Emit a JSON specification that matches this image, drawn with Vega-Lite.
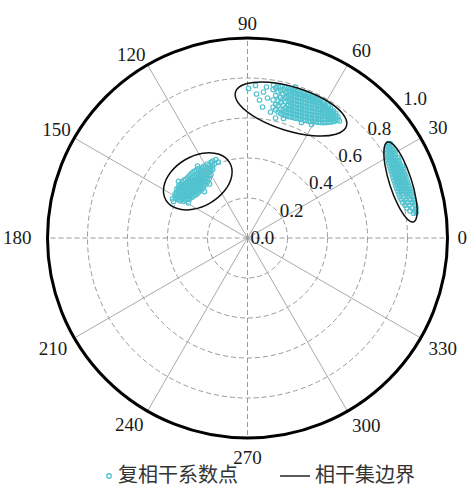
{
  "$schema": "https://vega.github.io/schema/vega-lite/v6.json",
  "width": 400,
  "height": 400,
  "autosize": {"type": "none"},
  "padding": {"left": 47.5, "top": 38, "right": 22.5, "bottom": 49},
  "background": "white",
  "config": {"view": {"stroke": null}},
  "datasets": {
    "rings": [{"o": 0, "r": 0.2}, {"o": 0, "r": 0.4}, {"o": 0, "r": 0.6}, {"o": 0, "r": 0.8}],
    "outer": [{"o": 0, "r": 1.0}],
    "rlabels": [{"r": 0}, {"r": 0.2}, {"r": 0.4}, {"r": 0.6}, {"r": 0.8}, {"r": 1.0}],
    "spokes": [
      {"angle": 0, "o": 0, "c": 1, "s": 0}, {"angle": 30, "o": 0, "c": 0.866, "s": 0.5}, {"angle": 60, "o": 0, "c": 0.5, "s": 0.866},
      {"angle": 90, "o": 0, "c": 0, "s": 1}, {"angle": 120, "o": 0, "c": -0.5, "s": 0.866}, {"angle": 150, "o": 0, "c": -0.866, "s": 0.5},
      {"angle": 180, "o": 0, "c": -1, "s": 0}, {"angle": 210, "o": 0, "c": -0.866, "s": -0.5}, {"angle": 240, "o": 0, "c": -0.5, "s": -0.866},
      {"angle": 270, "o": 0, "c": 0, "s": -1}, {"angle": 300, "o": 0, "c": 0.5, "s": -0.866}, {"angle": 330, "o": 0, "c": 0.866, "s": -0.5}
    ],
    "ell": [
      {"id": "A", "i": 0, "x": 0.8299, "y": 0.0803}, {"id": "A", "i": 1, "x": 0.8474, "y": 0.1156},
      {"id": "A", "i": 2, "x": 0.8428, "y": 0.1949}, {"id": "A", "i": 3, "x": 0.8173, "y": 0.2970},
      {"id": "A", "i": 4, "x": 0.7779, "y": 0.3946}, {"id": "A", "i": 5, "x": 0.7350, "y": 0.4615},
      {"id": "A", "i": 6, "x": 0.7001, "y": 0.4797}, {"id": "A", "i": 7, "x": 0.6827, "y": 0.4445},
      {"id": "A", "i": 8, "x": 0.6873, "y": 0.3652}, {"id": "A", "i": 9, "x": 0.7127, "y": 0.2630},
      {"id": "A", "i": 10, "x": 0.7522, "y": 0.1655}, {"id": "A", "i": 11, "x": 0.7951, "y": 0.0986},
      {"id": "B", "i": 0, "x": 0.4950, "y": 0.5600}, {"id": "B", "i": 1, "x": 0.4418, "y": 0.5188},
      {"id": "B", "i": 2, "x": 0.3284, "y": 0.5114}, {"id": "B", "i": 3, "x": 0.1853, "y": 0.5398},
      {"id": "B", "i": 4, "x": 0.0509, "y": 0.5964}, {"id": "B", "i": 5, "x": -0.0390, "y": 0.6660},
      {"id": "B", "i": 6, "x": -0.0600, "y": 0.7300}, {"id": "B", "i": 7, "x": -0.0068, "y": 0.7713},
      {"id": "B", "i": 8, "x": 0.1067, "y": 0.7787}, {"id": "B", "i": 9, "x": 0.2498, "y": 0.7503},
      {"id": "B", "i": 10, "x": 0.3842, "y": 0.6937}, {"id": "B", "i": 11, "x": 0.4740, "y": 0.6241},
      {"id": "C", "i": 0, "x": -0.0891, "y": 0.3773}, {"id": "C", "i": 1, "x": -0.0787, "y": 0.3108},
      {"id": "C", "i": 2, "x": -0.1139, "y": 0.2371}, {"id": "C", "i": 3, "x": -0.1851, "y": 0.1758},
      {"id": "C", "i": 4, "x": -0.2734, "y": 0.1433}, {"id": "C", "i": 5, "x": -0.3549, "y": 0.1484},
      {"id": "C", "i": 6, "x": -0.4080, "y": 0.1897}, {"id": "C", "i": 7, "x": -0.4183, "y": 0.2562},
      {"id": "C", "i": 8, "x": -0.3832, "y": 0.3299}, {"id": "C", "i": 9, "x": -0.3119, "y": 0.3913},
      {"id": "C", "i": 10, "x": -0.2237, "y": 0.4237}, {"id": "C", "i": 11, "x": -0.1421, "y": 0.4186}
    ],
    "pts": [
      {"x": -0.362, "y": 0.206}, {"x": -0.362, "y": 0.221},
      {"x": -0.353, "y": 0.198}, {"x": -0.353, "y": 0.214}, {"x": -0.353, "y": 0.231}, {"x": -0.353, "y": 0.246},
      {"x": -0.344, "y": 0.191}, {"x": -0.344, "y": 0.207}, {"x": -0.344, "y": 0.223}, {"x": -0.344, "y": 0.239}, {"x": -0.344, "y": 0.258},
      {"x": -0.336, "y": 0.186}, {"x": -0.336, "y": 0.204}, {"x": -0.336, "y": 0.219}, {"x": -0.336, "y": 0.236}, {"x": -0.336, "y": 0.251}, {"x": -0.336, "y": 0.268},
      {"x": -0.327, "y": 0.193}, {"x": -0.327, "y": 0.209}, {"x": -0.327, "y": 0.225}, {"x": -0.327, "y": 0.242}, {"x": -0.327, "y": 0.257}, {"x": -0.327, "y": 0.279},
      {"x": -0.318, "y": 0.184}, {"x": -0.318, "y": 0.202}, {"x": -0.318, "y": 0.218}, {"x": -0.318, "y": 0.234}, {"x": -0.318, "y": 0.249}, {"x": -0.318, "y": 0.266}, {"x": -0.318, "y": 0.288},
      {"x": -0.309, "y": 0.191}, {"x": -0.309, "y": 0.206}, {"x": -0.309, "y": 0.223}, {"x": -0.309, "y": 0.24}, {"x": -0.309, "y": 0.256}, {"x": -0.309, "y": 0.271}, {"x": -0.309, "y": 0.293},
      {"x": -0.3, "y": 0.197}, {"x": -0.3, "y": 0.213}, {"x": -0.3, "y": 0.229}, {"x": -0.3, "y": 0.246}, {"x": -0.3, "y": 0.262}, {"x": -0.3, "y": 0.278}, {"x": -0.3, "y": 0.301},
      {"x": -0.291, "y": 0.194}, {"x": -0.291, "y": 0.209}, {"x": -0.291, "y": 0.226}, {"x": -0.291, "y": 0.242}, {"x": -0.291, "y": 0.257}, {"x": -0.291, "y": 0.273}, {"x": -0.291, "y": 0.289}, {"x": -0.291, "y": 0.311},
      {"x": -0.282, "y": 0.202}, {"x": -0.282, "y": 0.217}, {"x": -0.282, "y": 0.234}, {"x": -0.282, "y": 0.25}, {"x": -0.282, "y": 0.265}, {"x": -0.282, "y": 0.281}, {"x": -0.282, "y": 0.297}, {"x": -0.282, "y": 0.319},
      {"x": -0.273, "y": 0.207}, {"x": -0.273, "y": 0.223}, {"x": -0.273, "y": 0.239}, {"x": -0.273, "y": 0.255}, {"x": -0.273, "y": 0.271}, {"x": -0.273, "y": 0.287}, {"x": -0.273, "y": 0.304}, {"x": -0.273, "y": 0.328},
      {"x": -0.264, "y": 0.214}, {"x": -0.264, "y": 0.231}, {"x": -0.264, "y": 0.246}, {"x": -0.264, "y": 0.262}, {"x": -0.264, "y": 0.277}, {"x": -0.264, "y": 0.293}, {"x": -0.264, "y": 0.309}, {"x": -0.264, "y": 0.334},
      {"x": -0.255, "y": 0.219}, {"x": -0.255, "y": 0.235}, {"x": -0.255, "y": 0.251}, {"x": -0.255, "y": 0.268}, {"x": -0.255, "y": 0.284}, {"x": -0.255, "y": 0.299}, {"x": -0.255, "y": 0.317}, {"x": -0.255, "y": 0.339},
      {"x": -0.246, "y": 0.227}, {"x": -0.246, "y": 0.242}, {"x": -0.246, "y": 0.259}, {"x": -0.246, "y": 0.275}, {"x": -0.246, "y": 0.291}, {"x": -0.246, "y": 0.308}, {"x": -0.246, "y": 0.324}, {"x": -0.246, "y": 0.347},
      {"x": -0.237, "y": 0.236}, {"x": -0.237, "y": 0.249}, {"x": -0.237, "y": 0.266}, {"x": -0.237, "y": 0.282}, {"x": -0.237, "y": 0.299}, {"x": -0.237, "y": 0.316}, {"x": -0.237, "y": 0.335},
      {"x": -0.228, "y": 0.244}, {"x": -0.228, "y": 0.261}, {"x": -0.228, "y": 0.277}, {"x": -0.228, "y": 0.292}, {"x": -0.228, "y": 0.309}, {"x": -0.228, "y": 0.325}, {"x": -0.228, "y": 0.349},
      {"x": -0.219, "y": 0.255}, {"x": -0.219, "y": 0.271}, {"x": -0.219, "y": 0.288}, {"x": -0.219, "y": 0.304}, {"x": -0.219, "y": 0.32}, {"x": -0.219, "y": 0.339}, {"x": -0.219, "y": 0.358},
      {"x": -0.21, "y": 0.267}, {"x": -0.21, "y": 0.284}, {"x": -0.21, "y": 0.299}, {"x": -0.21, "y": 0.317}, {"x": -0.21, "y": 0.335}, {"x": -0.21, "y": 0.354},
      {"x": -0.201, "y": 0.279}, {"x": -0.201, "y": 0.297}, {"x": -0.201, "y": 0.314}, {"x": -0.201, "y": 0.33}, {"x": -0.201, "y": 0.349}, {"x": -0.201, "y": 0.37},
      {"x": -0.192, "y": 0.294}, {"x": -0.192, "y": 0.311}, {"x": -0.192, "y": 0.329}, {"x": -0.192, "y": 0.344}, {"x": -0.192, "y": 0.364},
      {"x": -0.183, "y": 0.317}, {"x": -0.183, "y": 0.335}, {"x": -0.183, "y": 0.351}, {"x": -0.183, "y": 0.378},
      {"x": -0.174, "y": 0.344}, {"x": -0.174, "y": 0.361}, {"x": -0.174, "y": 0.384},
      {"x": -0.165, "y": 0.371},
      {"x": -0.146, "y": 0.379}, {"x": -0.158, "y": 0.392}, {"x": -0.375, "y": 0.196}, {"x": -0.37, "y": 0.183}, {"x": -0.296, "y": 0.176},
      {"x": -0.215, "y": 0.232}, {"x": -0.345, "y": 0.283}, {"x": -0.25, "y": 0.36}, {"x": -0.19, "y": 0.27},

      {"x": 0.128, "y": 0.655}, {"x": 0.128, "y": 0.69}, {"x": 0.128, "y": 0.742},
      {"x": 0.141, "y": 0.641}, {"x": 0.141, "y": 0.668}, {"x": 0.141, "y": 0.713}, {"x": 0.141, "y": 0.751},
      {"x": 0.153, "y": 0.63}, {"x": 0.153, "y": 0.661}, {"x": 0.153, "y": 0.686}, {"x": 0.153, "y": 0.73}, {"x": 0.153, "y": 0.757},
      {"x": 0.166, "y": 0.622}, {"x": 0.166, "y": 0.645}, {"x": 0.166, "y": 0.678}, {"x": 0.166, "y": 0.703}, {"x": 0.166, "y": 0.737}, {"x": 0.166, "y": 0.758},
      {"x": 0.178, "y": 0.616}, {"x": 0.178, "y": 0.639}, {"x": 0.178, "y": 0.664}, {"x": 0.178, "y": 0.697}, {"x": 0.178, "y": 0.72}, {"x": 0.178, "y": 0.744},
      {"x": 0.191, "y": 0.612}, {"x": 0.191, "y": 0.631}, {"x": 0.191, "y": 0.652}, {"x": 0.191, "y": 0.681}, {"x": 0.191, "y": 0.703}, {"x": 0.191, "y": 0.727}, {"x": 0.191, "y": 0.752},
      {"x": 0.204, "y": 0.608}, {"x": 0.204, "y": 0.627}, {"x": 0.204, "y": 0.645}, {"x": 0.204, "y": 0.664}, {"x": 0.204, "y": 0.686}, {"x": 0.204, "y": 0.707}, {"x": 0.204, "y": 0.729}, {"x": 0.204, "y": 0.749},
      {"x": 0.216, "y": 0.606}, {"x": 0.216, "y": 0.624}, {"x": 0.216, "y": 0.641}, {"x": 0.216, "y": 0.66}, {"x": 0.216, "y": 0.678}, {"x": 0.216, "y": 0.697}, {"x": 0.216, "y": 0.715}, {"x": 0.216, "y": 0.734}, {"x": 0.216, "y": 0.746},
      {"x": 0.229, "y": 0.603}, {"x": 0.229, "y": 0.62}, {"x": 0.229, "y": 0.638}, {"x": 0.229, "y": 0.655}, {"x": 0.229, "y": 0.673}, {"x": 0.229, "y": 0.691}, {"x": 0.229, "y": 0.709}, {"x": 0.229, "y": 0.727}, {"x": 0.229, "y": 0.742},
      {"x": 0.241, "y": 0.599}, {"x": 0.241, "y": 0.617}, {"x": 0.241, "y": 0.634}, {"x": 0.241, "y": 0.652}, {"x": 0.241, "y": 0.669}, {"x": 0.241, "y": 0.687}, {"x": 0.241, "y": 0.705}, {"x": 0.241, "y": 0.722}, {"x": 0.241, "y": 0.739},
      {"x": 0.254, "y": 0.597}, {"x": 0.254, "y": 0.614}, {"x": 0.254, "y": 0.632}, {"x": 0.254, "y": 0.649}, {"x": 0.254, "y": 0.667}, {"x": 0.254, "y": 0.684}, {"x": 0.254, "y": 0.702}, {"x": 0.254, "y": 0.719}, {"x": 0.254, "y": 0.735},
      {"x": 0.266, "y": 0.594}, {"x": 0.266, "y": 0.611}, {"x": 0.266, "y": 0.629}, {"x": 0.266, "y": 0.646}, {"x": 0.266, "y": 0.664}, {"x": 0.266, "y": 0.681}, {"x": 0.266, "y": 0.699}, {"x": 0.266, "y": 0.716}, {"x": 0.266, "y": 0.731},
      {"x": 0.279, "y": 0.59}, {"x": 0.279, "y": 0.608}, {"x": 0.279, "y": 0.626}, {"x": 0.279, "y": 0.643}, {"x": 0.279, "y": 0.661}, {"x": 0.279, "y": 0.678}, {"x": 0.279, "y": 0.696}, {"x": 0.279, "y": 0.712}, {"x": 0.279, "y": 0.727},
      {"x": 0.291, "y": 0.588}, {"x": 0.291, "y": 0.605}, {"x": 0.291, "y": 0.623}, {"x": 0.291, "y": 0.64}, {"x": 0.291, "y": 0.658}, {"x": 0.291, "y": 0.675}, {"x": 0.291, "y": 0.692}, {"x": 0.291, "y": 0.709}, {"x": 0.291, "y": 0.722},
      {"x": 0.304, "y": 0.585}, {"x": 0.304, "y": 0.602}, {"x": 0.304, "y": 0.62}, {"x": 0.304, "y": 0.637}, {"x": 0.304, "y": 0.655}, {"x": 0.304, "y": 0.672}, {"x": 0.304, "y": 0.689}, {"x": 0.304, "y": 0.705}, {"x": 0.304, "y": 0.719},
      {"x": 0.316, "y": 0.583}, {"x": 0.316, "y": 0.6}, {"x": 0.316, "y": 0.617}, {"x": 0.316, "y": 0.634}, {"x": 0.316, "y": 0.652}, {"x": 0.316, "y": 0.669}, {"x": 0.316, "y": 0.686}, {"x": 0.316, "y": 0.701}, {"x": 0.316, "y": 0.713},
      {"x": 0.329, "y": 0.582}, {"x": 0.329, "y": 0.598}, {"x": 0.329, "y": 0.615}, {"x": 0.329, "y": 0.632}, {"x": 0.329, "y": 0.649}, {"x": 0.329, "y": 0.666}, {"x": 0.329, "y": 0.682}, {"x": 0.329, "y": 0.697}, {"x": 0.329, "y": 0.708},
      {"x": 0.341, "y": 0.58}, {"x": 0.341, "y": 0.597}, {"x": 0.341, "y": 0.613}, {"x": 0.341, "y": 0.63}, {"x": 0.341, "y": 0.646}, {"x": 0.341, "y": 0.663}, {"x": 0.341, "y": 0.679}, {"x": 0.341, "y": 0.694}, {"x": 0.341, "y": 0.703},
      {"x": 0.354, "y": 0.579}, {"x": 0.354, "y": 0.595}, {"x": 0.354, "y": 0.612}, {"x": 0.354, "y": 0.628}, {"x": 0.354, "y": 0.644}, {"x": 0.354, "y": 0.66}, {"x": 0.354, "y": 0.676}, {"x": 0.354, "y": 0.69}, {"x": 0.354, "y": 0.697},
      {"x": 0.366, "y": 0.578}, {"x": 0.366, "y": 0.594}, {"x": 0.366, "y": 0.61}, {"x": 0.366, "y": 0.626}, {"x": 0.366, "y": 0.642}, {"x": 0.366, "y": 0.657}, {"x": 0.366, "y": 0.672}, {"x": 0.366, "y": 0.686},
      {"x": 0.379, "y": 0.577}, {"x": 0.379, "y": 0.593}, {"x": 0.379, "y": 0.609}, {"x": 0.379, "y": 0.624}, {"x": 0.379, "y": 0.64}, {"x": 0.379, "y": 0.655}, {"x": 0.379, "y": 0.668}, {"x": 0.379, "y": 0.68},
      {"x": 0.391, "y": 0.578}, {"x": 0.391, "y": 0.594}, {"x": 0.391, "y": 0.609}, {"x": 0.391, "y": 0.623}, {"x": 0.391, "y": 0.638}, {"x": 0.391, "y": 0.652}, {"x": 0.391, "y": 0.666},
      {"x": 0.404, "y": 0.579}, {"x": 0.404, "y": 0.595}, {"x": 0.404, "y": 0.609}, {"x": 0.404, "y": 0.623}, {"x": 0.404, "y": 0.637}, {"x": 0.404, "y": 0.65}, {"x": 0.404, "y": 0.662},
      {"x": 0.416, "y": 0.58}, {"x": 0.416, "y": 0.596}, {"x": 0.416, "y": 0.61}, {"x": 0.416, "y": 0.624}, {"x": 0.416, "y": 0.636}, {"x": 0.416, "y": 0.648},
      {"x": 0.429, "y": 0.583}, {"x": 0.429, "y": 0.598}, {"x": 0.429, "y": 0.611}, {"x": 0.429, "y": 0.624}, {"x": 0.429, "y": 0.636},
      {"x": 0.441, "y": 0.587}, {"x": 0.441, "y": 0.6}, {"x": 0.441, "y": 0.613}, {"x": 0.441, "y": 0.625},
      {"x": 0.452, "y": 0.592}, {"x": 0.452, "y": 0.606},
      {"x": 0.005, "y": 0.748}, {"x": 0.04, "y": 0.763}, {"x": 0.045, "y": 0.72}, {"x": 0.08, "y": 0.73}, {"x": 0.13, "y": 0.765},
      {"x": 0.075, "y": 0.655}, {"x": 0.115, "y": 0.63}, {"x": 0.1, "y": 0.7}, {"x": 0.095, "y": 0.755}, {"x": 0.14, "y": 0.6},
      {"x": 0.18, "y": 0.598}, {"x": 0.27, "y": 0.578}, {"x": 0.32, "y": 0.568}, {"x": 0.46, "y": 0.585}, {"x": 0.24, "y": 0.755}, {"x": 0.06, "y": 0.69},

      {"x": 0.703, "y": 0.472}, {"x": 0.714, "y": 0.472},
      {"x": 0.697, "y": 0.458}, {"x": 0.708, "y": 0.458}, {"x": 0.722, "y": 0.458},
      {"x": 0.696, "y": 0.444}, {"x": 0.709, "y": 0.444}, {"x": 0.722, "y": 0.444}, {"x": 0.733, "y": 0.444},
      {"x": 0.697, "y": 0.43}, {"x": 0.71, "y": 0.43}, {"x": 0.723, "y": 0.43}, {"x": 0.737, "y": 0.43},
      {"x": 0.699, "y": 0.416}, {"x": 0.712, "y": 0.416}, {"x": 0.725, "y": 0.416}, {"x": 0.739, "y": 0.416},
      {"x": 0.701, "y": 0.402}, {"x": 0.714, "y": 0.402}, {"x": 0.727, "y": 0.402}, {"x": 0.741, "y": 0.402}, {"x": 0.752, "y": 0.402},
      {"x": 0.704, "y": 0.388}, {"x": 0.717, "y": 0.388}, {"x": 0.73, "y": 0.388}, {"x": 0.744, "y": 0.388}, {"x": 0.756, "y": 0.388},
      {"x": 0.707, "y": 0.374}, {"x": 0.72, "y": 0.374}, {"x": 0.733, "y": 0.374}, {"x": 0.747, "y": 0.374}, {"x": 0.76, "y": 0.374},
      {"x": 0.711, "y": 0.36}, {"x": 0.724, "y": 0.36}, {"x": 0.737, "y": 0.36}, {"x": 0.75, "y": 0.36}, {"x": 0.764, "y": 0.36}, {"x": 0.774, "y": 0.36},
      {"x": 0.715, "y": 0.346}, {"x": 0.728, "y": 0.346}, {"x": 0.741, "y": 0.346}, {"x": 0.754, "y": 0.346}, {"x": 0.767, "y": 0.346}, {"x": 0.778, "y": 0.346},
      {"x": 0.719, "y": 0.332}, {"x": 0.732, "y": 0.332}, {"x": 0.745, "y": 0.332}, {"x": 0.758, "y": 0.332}, {"x": 0.771, "y": 0.332}, {"x": 0.782, "y": 0.332},
      {"x": 0.724, "y": 0.318}, {"x": 0.737, "y": 0.318}, {"x": 0.75, "y": 0.318}, {"x": 0.763, "y": 0.318}, {"x": 0.776, "y": 0.318}, {"x": 0.787, "y": 0.318},
      {"x": 0.728, "y": 0.304}, {"x": 0.741, "y": 0.304}, {"x": 0.754, "y": 0.304}, {"x": 0.767, "y": 0.304}, {"x": 0.78, "y": 0.304}, {"x": 0.792, "y": 0.304},
      {"x": 0.732, "y": 0.29}, {"x": 0.745, "y": 0.29}, {"x": 0.758, "y": 0.29}, {"x": 0.771, "y": 0.29}, {"x": 0.784, "y": 0.29}, {"x": 0.797, "y": 0.29},
      {"x": 0.737, "y": 0.276}, {"x": 0.75, "y": 0.276}, {"x": 0.763, "y": 0.276}, {"x": 0.776, "y": 0.276}, {"x": 0.789, "y": 0.276}, {"x": 0.801, "y": 0.276},
      {"x": 0.741, "y": 0.262}, {"x": 0.754, "y": 0.262}, {"x": 0.768, "y": 0.262}, {"x": 0.781, "y": 0.262}, {"x": 0.794, "y": 0.262}, {"x": 0.806, "y": 0.262},
      {"x": 0.746, "y": 0.248}, {"x": 0.759, "y": 0.248}, {"x": 0.773, "y": 0.248}, {"x": 0.786, "y": 0.248}, {"x": 0.799, "y": 0.248}, {"x": 0.811, "y": 0.248},
      {"x": 0.752, "y": 0.234}, {"x": 0.766, "y": 0.234}, {"x": 0.779, "y": 0.234}, {"x": 0.792, "y": 0.234}, {"x": 0.805, "y": 0.234}, {"x": 0.816, "y": 0.234},
      {"x": 0.757, "y": 0.22}, {"x": 0.777, "y": 0.22}, {"x": 0.797, "y": 0.22}, {"x": 0.81, "y": 0.22}, {"x": 0.821, "y": 0.22},
      {"x": 0.762, "y": 0.206}, {"x": 0.785, "y": 0.206}, {"x": 0.803, "y": 0.206}, {"x": 0.826, "y": 0.206},
      {"x": 0.768, "y": 0.192}, {"x": 0.793, "y": 0.192}, {"x": 0.815, "y": 0.192}, {"x": 0.83, "y": 0.192},
      {"x": 0.776, "y": 0.178}, {"x": 0.8, "y": 0.178}, {"x": 0.822, "y": 0.178}, {"x": 0.836, "y": 0.178},
      {"x": 0.788, "y": 0.164}, {"x": 0.81, "y": 0.164}, {"x": 0.84, "y": 0.164},
      {"x": 0.797, "y": 0.15}, {"x": 0.822, "y": 0.15}, {"x": 0.843, "y": 0.15},
      {"x": 0.812, "y": 0.136}, {"x": 0.835, "y": 0.136}, {"x": 0.843, "y": 0.128},
      {"x": 0.83, "y": 0.124}
    ],
    "angles": [
      {"angle": 0}, {"angle": 30}, {"angle": 60}, {"angle": 90}, {"angle": 120}, {"angle": 150},
      {"angle": 180}, {"angle": 210}, {"angle": 240}, {"angle": 270}, {"angle": 300}, {"angle": 330}
    ]
  },
  "layer": [
    {
      "data": {"name": "rings"},
      "mark": {"type": "point", "shape": "circle", "filled": false, "stroke": "#9a9a9a", "strokeWidth": 1, "strokeDash": [5, 3], "opacity": 1},
      "encoding": {
        "x": {"field": "o", "type": "quantitative", "scale": {"domain": [-1, 1], "nice": false, "zero": false}, "axis": null},
        "y": {"field": "o", "type": "quantitative", "scale": {"domain": [-1, 1], "nice": false, "zero": false}, "axis": null},
        "size": {"field": "r", "type": "quantitative", "legend": null, "scale": {"type": "pow", "exponent": 2, "domain": [0, 1], "range": [0, 160000], "zero": true}}
      }
    },
    {
      "data": {"name": "spokes"},
      "transform": [{"filter": "datum.angle % 90 != 0"}],
      "mark": {"type": "rule", "stroke": "#aaaaaa", "strokeWidth": 1},
      "encoding": {
        "x": {"field": "o", "type": "quantitative", "axis": null},
        "y": {"field": "o", "type": "quantitative", "axis": null},
        "x2": {"field": "c"},
        "y2": {"field": "s"}
      }
    },
    {
      "data": {"name": "spokes"},
      "transform": [{"filter": "datum.angle % 90 == 0"}],
      "mark": {"type": "rule", "stroke": "#9a9a9a", "strokeWidth": 1, "strokeDash": [5, 3]},
      "encoding": {
        "x": {"field": "o", "type": "quantitative", "axis": null},
        "y": {"field": "o", "type": "quantitative", "axis": null},
        "x2": {"field": "c"},
        "y2": {"field": "s"}
      }
    },
    {
      "data": {"name": "outer"},
      "mark": {"type": "point", "shape": "circle", "filled": false, "stroke": "#000000", "strokeWidth": 3, "opacity": 1},
      "encoding": {
        "x": {"field": "o", "type": "quantitative", "axis": null},
        "y": {"field": "o", "type": "quantitative", "axis": null},
        "size": {"field": "r", "type": "quantitative", "legend": null}
      }
    },
    {
      "data": {"name": "pts"},
      "mark": {"type": "point", "filled": false, "size": 20, "strokeWidth": 1.2, "opacity": 1},
      "encoding": {
        "x": {"field": "x", "type": "quantitative", "axis": null},
        "y": {"field": "y", "type": "quantitative", "axis": null},
        "color": {
          "datum": "复相干系数点", "type": "nominal",
          "scale": {"domain": ["复相干系数点", "相干集边界"], "range": ["#52c3cf", "#000000"]},
          "legend": {"orient": "none", "legendX": 51.5, "legendY": 428, "direction": "horizontal", "title": null,
            "labelFont": "Noto Sans CJK SC", "labelFontSize": 20, "labelColor": "#333333", "symbolSize": 20,
            "symbolStrokeWidth": 1.3, "labelOffset": -1, "columnPadding": 39}
        },
        "shape": {
          "datum": "复相干系数点", "type": "nominal",
          "scale": {"domain": ["复相干系数点", "相干集边界"], "range": ["circle", "M-11.6,0L1.8,0"]},
          "legend": {"orient": "none", "legendX": 51.5, "legendY": 428, "direction": "horizontal", "title": null,
            "labelFont": "Noto Sans CJK SC", "labelFontSize": 20, "labelColor": "#333333", "symbolSize": 20,
            "symbolStrokeWidth": 1.3, "labelOffset": -1, "columnPadding": 39}
        }
      }
    },
    {
      "data": {"name": "ell"},
      "mark": {"type": "line", "interpolate": "cardinal-closed", "stroke": "#111111", "strokeWidth": 1.5},
      "encoding": {
        "x": {"field": "x", "type": "quantitative", "axis": null},
        "y": {"field": "y", "type": "quantitative", "axis": null},
        "detail": {"field": "id", "type": "nominal"},
        "order": {"field": "i", "type": "quantitative"}
      }
    },
    {
      "data": {"name": "rlabels"},
      "transform": [{"filter": "datum.r < 1"}],
      "mark": {"type": "text", "align": "left", "baseline": "middle", "dx": 3, "font": "Liberation Serif", "fontSize": 19, "fill": "#1a1a1a"},
      "encoding": {
        "text": {"field": "r", "type": "quantitative", "format": ".1f"},
        "theta": {"datum": 43, "type": "quantitative", "scale": {"domain": [0, 360], "range": [1.5708, -4.7124]}},
        "radius": {"field": "r", "type": "quantitative", "stack": null, "scale": {"type": "linear", "domain": [0, 1], "range": [0, 200], "zero": true}}
      }
    },
    {
      "data": {"name": "rlabels"},
      "transform": [{"filter": "datum.r == 1"}],
      "mark": {"type": "text", "align": "left", "baseline": "middle", "dx": 12, "font": "Liberation Serif", "fontSize": 19, "fill": "#1a1a1a"},
      "encoding": {
        "text": {"field": "r", "type": "quantitative", "format": ".1f"},
        "theta": {"datum": 44, "type": "quantitative"},
        "radius": {"field": "r", "type": "quantitative", "stack": null}
      }
    },
    {
      "data": {"name": "angles"},
      "transform": [{"filter": "datum.angle == 0"}],
      "mark": {"type": "text", "align": "left", "baseline": "middle", "font": "Liberation Serif", "fontSize": 19, "fill": "#1a1a1a"},
      "encoding": {
        "text": {"field": "angle", "type": "quantitative"},
        "theta": {"field": "angle", "type": "quantitative", "stack": null},
        "radius": {"datum": 1.05, "type": "quantitative"}
      }
    },
    {
      "data": {"name": "angles"},
      "transform": [{"filter": "datum.angle == 30 || datum.angle == 60"}],
      "mark": {"type": "text", "align": "left", "baseline": "alphabetic", "font": "Liberation Serif", "fontSize": 19, "fill": "#1a1a1a"},
      "encoding": {
        "text": {"field": "angle", "type": "quantitative"},
        "theta": {"field": "angle", "type": "quantitative", "stack": null},
        "radius": {"datum": 1.045, "type": "quantitative"}
      }
    },
    {
      "data": {"name": "angles"},
      "transform": [{"filter": "datum.angle == 90"}],
      "mark": {"type": "text", "align": "center", "baseline": "alphabetic", "font": "Liberation Serif", "fontSize": 19, "fill": "#1a1a1a"},
      "encoding": {
        "text": {"field": "angle", "type": "quantitative"},
        "theta": {"field": "angle", "type": "quantitative", "stack": null},
        "radius": {"datum": 1.04, "type": "quantitative"}
      }
    },
    {
      "data": {"name": "angles"},
      "transform": [{"filter": "datum.angle == 120 || datum.angle == 150"}],
      "mark": {"type": "text", "align": "right", "baseline": "alphabetic", "font": "Liberation Serif", "fontSize": 19, "fill": "#1a1a1a"},
      "encoding": {
        "text": {"field": "angle", "type": "quantitative"},
        "theta": {"field": "angle", "type": "quantitative", "stack": null},
        "radius": {"datum": 1.02, "type": "quantitative"}
      }
    },
    {
      "data": {"name": "angles"},
      "transform": [{"filter": "datum.angle == 180"}],
      "mark": {"type": "text", "align": "right", "baseline": "middle", "font": "Liberation Serif", "fontSize": 19, "fill": "#1a1a1a"},
      "encoding": {
        "text": {"field": "angle", "type": "quantitative"},
        "theta": {"field": "angle", "type": "quantitative", "stack": null},
        "radius": {"datum": 1.08, "type": "quantitative"}
      }
    },
    {
      "data": {"name": "angles"},
      "transform": [{"filter": "datum.angle == 210 || datum.angle == 240"}],
      "mark": {"type": "text", "align": "right", "baseline": "top", "dy": -2, "font": "Liberation Serif", "fontSize": 19, "fill": "#1a1a1a"},
      "encoding": {
        "text": {"field": "angle", "type": "quantitative"},
        "theta": {"field": "angle", "type": "quantitative", "stack": null},
        "radius": {"datum": 1.04, "type": "quantitative"}
      }
    },
    {
      "data": {"name": "angles"},
      "transform": [{"filter": "datum.angle == 270"}],
      "mark": {"type": "text", "align": "center", "baseline": "top", "dy": -2, "font": "Liberation Serif", "fontSize": 19, "fill": "#1a1a1a"},
      "encoding": {
        "text": {"field": "angle", "type": "quantitative"},
        "theta": {"field": "angle", "type": "quantitative", "stack": null},
        "radius": {"datum": 1.065, "type": "quantitative"}
      }
    },
    {
      "data": {"name": "angles"},
      "transform": [{"filter": "datum.angle == 300 || datum.angle == 330"}],
      "mark": {"type": "text", "align": "left", "baseline": "top", "dy": -2, "font": "Liberation Serif", "fontSize": 19, "fill": "#1a1a1a"},
      "encoding": {
        "text": {"field": "angle", "type": "quantitative"},
        "theta": {"field": "angle", "type": "quantitative", "stack": null},
        "radius": {"datum": 1.045, "type": "quantitative"}
      }
    }
  ]
}
